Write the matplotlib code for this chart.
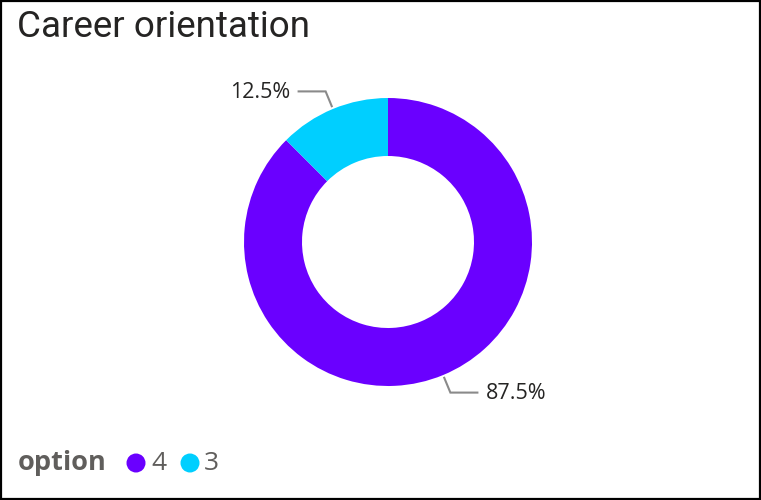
import numpy as np
import matplotlib
matplotlib.use("Agg")
import matplotlib.pyplot as plt
from matplotlib.patches import Rectangle, Circle

# Data
title = "Career orientation"
legend_title = "option"
categories = ["4", "3"]
counts = [7, 1]
colors = ["#6A00FF", "#00CFFF"]

W, H = 761, 500
fig = plt.figure(figsize=(W / 100, H / 100), dpi=100)
ax = fig.add_axes([0, 0, 1, 1])

cx, cy, R, ring = 388, H - 242, 144, 58
total = sum(counts)
wedges, _ = ax.pie(counts, colors=colors, startangle=90, counterclock=False,
                   center=(cx, cy), radius=R, frame=True,
                   wedgeprops=dict(width=ring, linewidth=0))
ax.set_xlim(0, W)
ax.set_ylim(0, H)
ax.set_aspect("equal")
ax.axis("off")

lab_font = dict(family=["Open Sans", "DejaVu Sans"], size=15.5, color="#252423")
for w, c in zip(wedges, counts):
    ang = np.deg2rad((w.theta1 + w.theta2) / 2)
    p0 = (cx + (R + 3) * np.cos(ang), cy + (R + 3) * np.sin(ang))
    p1 = (cx + (R + 19) * np.cos(ang), cy + (R + 19) * np.sin(ang))
    side = 1 if np.cos(ang) >= 0 else -1
    p2 = (p1[0] + side * 27, p1[1])
    ax.plot([p0[0], p1[0], p2[0]], [p0[1], p1[1], p2[1]], color="#8a8a8a", lw=1.5,
            solid_joinstyle="miter")
    ax.text(p2[0] + side * 8, p2[1] - 1, f"{100 * c / total:.1f}%",
            ha="left" if side > 0 else "right", va="center", **lab_font)

# Title
fig.text(17 / W, 1 - 27 / H, title, ha="left", va="center",
         family=["Roboto", "DejaVu Sans"], size=26.5, color="#252423")

# Legend
ly = H - 463
ax.text(18, ly, legend_title, ha="left", va="center", fontweight="bold",
        family=["Open Sans", "DejaVu Sans"], size=19.5, color="#605E5C")
for x_c, x_t, col, lab in [(136, 151, colors[0], categories[0]), (190, 204, colors[1], categories[1])]:
    ax.add_patch(Circle((x_c, ly), 9.5, color=col, lw=0))
    ax.text(x_t, ly, lab, ha="left", va="center",
            family=["Open Sans", "DejaVu Sans"], size=19, color="#605E5C")

# Border
fig.patches.append(Rectangle((1 / W, 1 / H), (W - 2) / W, (H - 2) / H,
                             transform=fig.transFigure, fill=False,
                             edgecolor="black", lw=1.6))

fig.savefig("out.png", dpi=100)
